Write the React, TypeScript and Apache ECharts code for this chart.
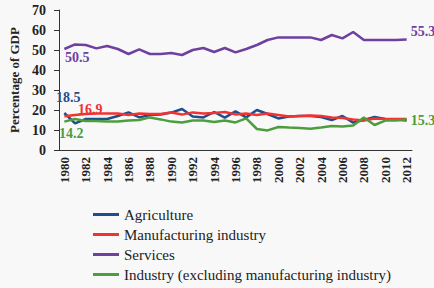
import React, { useEffect, useRef } from "react";
import * as echarts from "echarts";

const years = [
  "1980","1981","1982","1983","1984","1985","1986","1987","1988","1989","1990",
  "1991","1992","1993","1994","1995","1996","1997","1998","1999","2000","2001",
  "2002","2003","2004","2005","2006","2007","2008","2009","2010","2011","2012",
];

const agriculture = [18.5, 13.3, 15.5, 15.5, 15.5, 17, 18.8, 16.3, 17.5, 17.8, 18.7, 20.5, 16.7, 16.3, 19, 16.2, 19.3, 16.3, 20, 18, 15.8, 16.7, 17, 17, 16.5, 15, 17, 13.7, 15, 16.5, 15.5, 15.3, 14.7];
const manufacturing = [16.9, 17.5, 18, 18.3, 18.3, 18.3, 17.5, 18.3, 18, 18, 18.7, 17.7, 18.8, 18.3, 18.5, 19, 17.8, 18.3, 17.5, 18.2, 17.5, 16.7, 17, 17.2, 17, 16.3, 16, 15.3, 14.8, 15.8, 15.5, 15.5, 15.5];
const services = [50.5, 52.8, 52.5, 50.8, 52, 50.5, 48, 50.3, 48, 48, 48.5, 47.5, 50, 51, 49, 51, 48.8, 50.5, 52.5, 55, 56.3, 56.3, 56.3, 56.3, 55, 57.5, 55.8, 59, 55, 55, 55, 55, 55.3];
const industry = [14.2, 15.5, 14.5, 14.5, 14.2, 14.2, 14.7, 15, 16.3, 15.3, 14.2, 13.7, 14.7, 14.7, 14, 14.7, 13.8, 15.8, 10.5, 9.8, 11.5, 11.2, 11, 10.6, 11.2, 12, 11.7, 12.2, 16.3, 12.5, 14.7, 14.7, 15.3];

const seriesNames = [
  "Agriculture",
  "Manufacturing industry",
  "Services",
  "Industry (excluding manufacturing industry)",
];

const colors = ["#1f4e8c", "#f03232", "#7040a0", "#4c9e3c"];

const FONT = "'Liberation Serif', 'DejaVu Serif', serif";

type LabelSpec = { [idx: number]: any };

function withLabels(values: number[], color: string, specs: LabelSpec) {
  return values.map((v, i) => {
    const s = specs[i];
    if (!s) return { value: v, label: { show: false } };
    return {
      value: v,
      label: {
        show: true,
        color,
        fontFamily: FONT,
        fontWeight: "bold",
        fontSize: 14,
        formatter: String(v),
        ...s,
      },
    };
  });
}

export default function App() {
  const ref = useRef<HTMLDivElement>(null);
  useEffect(() => {
    document.body.style.margin = "0";
    document.body.style.background = "#f8f8f8";
    const chart = echarts.init(ref.current!, null, { renderer: "svg" });
    const last = years.length - 1;
    const data = [
      withLabels(agriculture, colors[0], { 0: { position: "top", distance: 7, offset: [4, -1] } }),
      withLabels(manufacturing, colors[1], { 0: { position: "top", distance: 1, offset: [26, 1] } }),
      withLabels(services, colors[2], {
        0: { position: "bottom", distance: 1, offset: [13, 0] },
        [last]: { position: "right", distance: 4, offset: [0, -8] },
      }),
      withLabels(industry, colors[3], {
        0: { position: "bottom", distance: 5, offset: [7, 0] },
        [last]: { position: "right", distance: 4, offset: [0, 1] },
      }),
    ];
    chart.setOption({
      animation: false,
      backgroundColor: "#f8f8f8",
      grid: { left: 52, right: 22, top: 10, bottom: 138, containLabel: false },
      legend: {
        orient: "vertical",
        left: 93,
        top: 207,
        icon: "rect",
        itemWidth: 26,
        itemHeight: 3,
        itemGap: 5,
        padding: 0,
        data: seriesNames,
        textStyle: { fontFamily: FONT, fontSize: 15, color: "#222", lineHeight: 15 },
      },
      xAxis: {
        type: "category",
        data: years,
        boundaryGap: true,
        axisLine: { lineStyle: { color: "#333", width: 1 } },
        axisTick: { interval: 1, length: 5, lineStyle: { color: "#333" } },
        axisLabel: {
          interval: 1,
          rotate: 90,
          margin: 7,
          fontFamily: FONT,
          fontWeight: "bold",
          fontSize: 13,
          color: "#222",
        },
      },
      yAxis: {
        type: "value",
        min: 0,
        max: 70,
        interval: 10,
        name: "Percentage of GDP",
        nameLocation: "middle",
        nameGap: 38,
        nameTextStyle: { fontFamily: FONT, fontWeight: "bold", fontSize: 13, color: "#222" },
        axisLine: { show: true, lineStyle: { color: "#333", width: 1 } },
        axisTick: { show: true, length: 5, lineStyle: { color: "#333" } },
        splitLine: { show: false },
        axisLabel: {
          margin: 13,
          fontFamily: FONT,
          fontWeight: "bold",
          fontSize: 14,
          color: "#222",
        },
      },
      series: seriesNames.map((name, i) => ({
        name,
        type: "line",
        data: data[i],
        symbol: "circle",
        symbolSize: 0.01,
        showSymbol: true,
        showAllSymbol: true,
        lineStyle: { color: colors[i], width: 2.5 },
        itemStyle: { color: colors[i] },
        emphasis: { disabled: true },
      })),
    });
    return () => chart.dispose();
  }, []);
  return (
    <div
      ref={ref}
      style={{ position: "absolute", left: 0, top: 0, width: 434, height: 288 }}
    />
  );
}
